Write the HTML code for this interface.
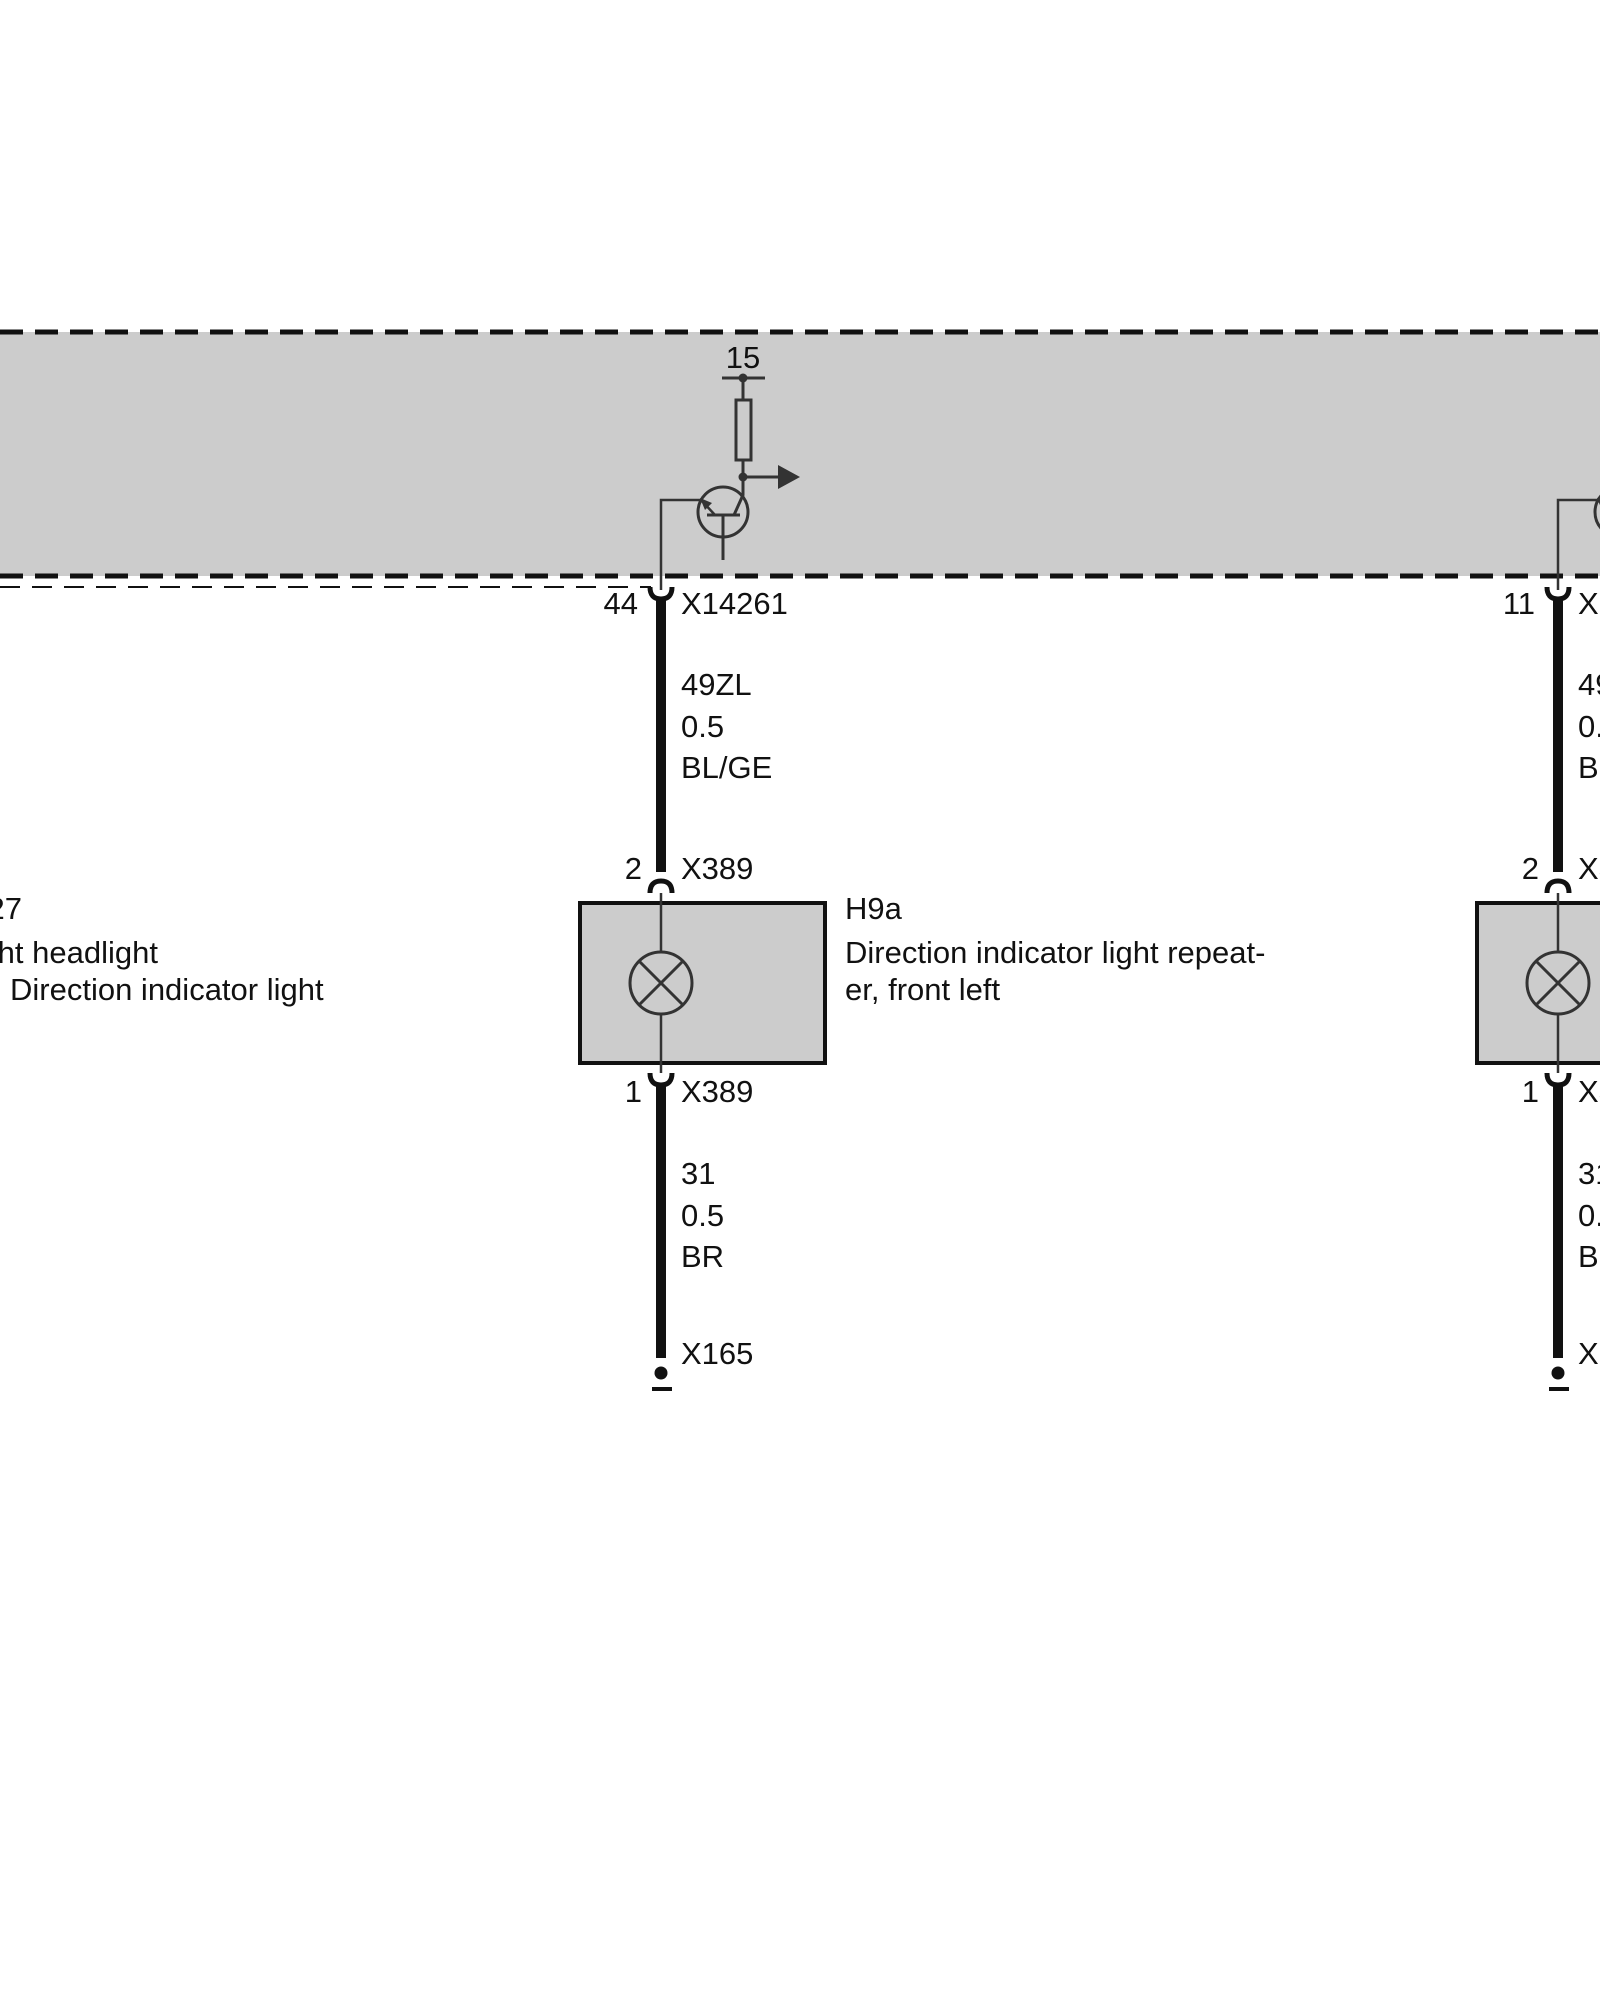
<!DOCTYPE html>
<html><head><meta charset="utf-8"><style>
html,body{margin:0;padding:0;background:#fff;}
svg{display:block;}
text{font-family:"Liberation Sans",Arial,sans-serif;font-size:31px;fill:#111;}
</style></head><body>
<svg width="1600" height="2000" viewBox="0 0 1600 2000" xmlns="http://www.w3.org/2000/svg">
<defs>
<g id="ckt">
  <circle cx="723" cy="512" r="25" fill="none" stroke="#333" stroke-width="3"/>
  <polyline points="661,590 661,500 702,500" fill="none" stroke="#333" stroke-width="2.5"/>
  <line x1="707" y1="515" x2="740" y2="515" stroke="#333" stroke-width="3"/>
  <line x1="723" y1="515" x2="723" y2="560" stroke="#333" stroke-width="3"/>
  <line x1="715" y1="515" x2="702" y2="501" stroke="#333" stroke-width="2.5"/>
  <polygon points="700,498 712,503 705,510" fill="#333"/>
  <polyline points="734,515 743,495 743,460" fill="none" stroke="#333" stroke-width="3"/>
  <line x1="743" y1="400" x2="743" y2="378" stroke="#333" stroke-width="3"/>
  <rect x="736" y="400" width="15" height="60" fill="none" stroke="#333" stroke-width="3"/>
  <line x1="722" y1="378" x2="765" y2="378" stroke="#333" stroke-width="3"/>
  <circle cx="743" cy="378" r="4.5" fill="#333"/>
  <circle cx="743" cy="477" r="4.5" fill="#333"/>
  <line x1="743" y1="477" x2="780" y2="477" stroke="#333" stroke-width="3"/>
  <polygon points="778,465 800,477 778,489" fill="#333"/>
  <text x="743" y="368" text-anchor="middle" font-size="27">15</text>
  <path d="M650,587 Q650,599 661,599 Q672,599 672,587" fill="none" stroke="#111" stroke-width="5"/>
  <line x1="661" y1="597" x2="661" y2="872" stroke="#111" stroke-width="10"/>
  <path d="M650,893 Q650,881 661,881 Q672,881 672,893" fill="none" stroke="#111" stroke-width="5"/>
  <text x="681" y="614">X14261</text>
  <text x="681" y="695">49ZL</text>
  <text x="681" y="737">0.5</text>
  <text x="681" y="778">BL/GE</text>
  <text x="642" y="879" text-anchor="end">2</text>
  <text x="681" y="879">X389</text>
  <rect x="580" y="903" width="245" height="160" fill="#cccccc" stroke="#111" stroke-width="4"/>
  <line x1="661" y1="893" x2="661" y2="952" stroke="#333" stroke-width="2.5"/>
  <line x1="661" y1="1014" x2="661" y2="1073" stroke="#333" stroke-width="2.5"/>
  <circle cx="661" cy="983" r="31" fill="none" stroke="#333" stroke-width="3"/>
  <line x1="639" y1="961" x2="683" y2="1005" stroke="#333" stroke-width="3"/>
  <line x1="683" y1="961" x2="639" y2="1005" stroke="#333" stroke-width="3"/>
  <path d="M650,1073 Q650,1085 661,1085 Q672,1085 672,1073" fill="none" stroke="#111" stroke-width="5"/>
  <line x1="661" y1="1083" x2="661" y2="1358" stroke="#111" stroke-width="10"/>
  <circle cx="661" cy="1373" r="6.5" fill="#111"/>
  <line x1="652" y1="1389" x2="672" y2="1389" stroke="#111" stroke-width="4"/>
  <text x="642" y="1102" text-anchor="end">1</text>
  <text x="681" y="1102">X389</text>
  <text x="681" y="1184">31</text>
  <text x="681" y="1226">0.5</text>
  <text x="681" y="1267">BR</text>
  <text x="681" y="1364">X165</text>
</g>
</defs>
<rect x="0" y="332" width="1600" height="244" fill="#cccccc"/>
<line x1="0" y1="332" x2="1600" y2="332" stroke="#111" stroke-width="5" stroke-dasharray="23,12"/>
<line x1="0" y1="576" x2="1600" y2="576" stroke="#111" stroke-width="5" stroke-dasharray="23,12"/>
<line x1="0" y1="587" x2="651" y2="587" stroke="#111" stroke-width="2" stroke-dasharray="20,12"/>
<use href="#ckt"/>
<use href="#ckt" transform="translate(897,0)"/>
<text x="638" y="614" text-anchor="end">44</text>
<text x="1535" y="614" text-anchor="end">11</text>
<text x="845" y="919">H9a</text>
<text x="845" y="963">Direction indicator light repeat-</text>
<text x="845" y="1000">er, front left</text>
<text x="22" y="919" text-anchor="end">E27</text>
<text x="158" y="963" text-anchor="end">Right headlight</text>
<text x="10" y="1000">Direction indicator light</text>
</svg>
</body></html>
